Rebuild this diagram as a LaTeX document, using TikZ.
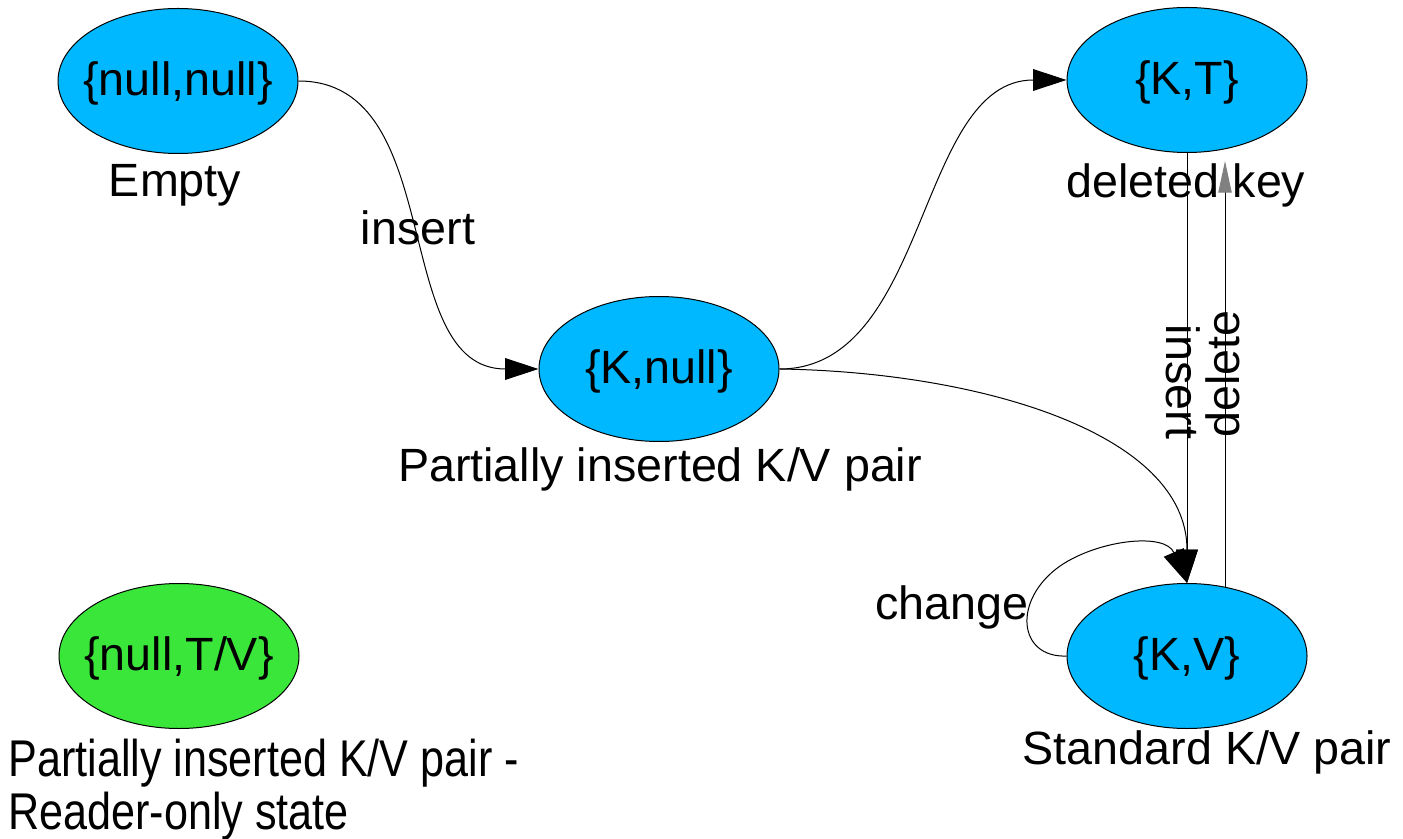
\documentclass[tikz,border=0pt]{standalone}
\usepackage{fontspec}
\usepackage{graphicx}
\setmainfont{Liberation Sans}
\usetikzlibrary{shapes.geometric,arrows.meta}
\definecolor{stblue}{RGB}{0,184,255}
\definecolor{stgreen}{RGB}{58,230,58}
\newcommand{\sttext}[1]{\raisebox{-0.32em}[0pt][0pt]{\makebox[0pt]{#1}}}
\begin{document}
\begin{tikzpicture}[x=0.6pt,y=-0.6pt,
  every node/.style={font=\fontsize{28}{27}\selectfont},
  state/.style={ellipse,draw=black,line width=0.6pt,fill=stblue,minimum width=144pt,minimum height=87pt,inner sep=0pt},
  lbl/.style={inner sep=0pt},
  conn/.style={draw=black,line width=0.6pt,-{Triangle[length=20pt,width=13pt]}},
  greyconn/.style={draw=black,line width=0.6pt,-{Triangle[length=19pt,width=8pt,color=gray]}}]
\useasboundingbox (0,0) rectangle (1403,839);
\node[state] (nn) at (178,81) {\sttext{\{null,null\}}};
\node[state] (kt) at (1187,80) {\sttext{\{K,T\}}};
\node[state] (kn) at (659,369) {\sttext{\{K,null\}}};
\node[state] (kv) at (1187,656) {\sttext{\{K,V\}}};
\node[state,fill=stgreen] (ntv) at (179,656) {\sttext{\{null,T/V\}}};

\node[lbl] (lempty) at (175,185) {Empty};
\node[lbl] (ldel) at (1186,185) {deleted key};
\node[lbl] (lpart) at (660,469) {Partially inserted K/V pair};
\node[lbl] (lstd) at (1207,752) {Standard K/V pair};
\node[lbl,anchor=base west,font=\fontsize{31}{31.5}\selectfont] (lreader) at (8,776)
  {\scalebox{0.835}[1]{\begin{tabular}[t]{@{}l@{}}Partially inserted K/V pair -\\Reader-only state\end{tabular}}};

\draw[conn] (nn.east) .. controls +(150,0) and +(-150,0) .. (kn.west);
\node[lbl] (lins1) at (418,228) {insert};
\draw[conn] (kn.east) .. controls +(150,0) and +(-150,0) .. (kt.west);
\draw[conn] (kn.east) .. controls +(200,3) and +(0,-150) .. (kv.north);
\draw[conn] (kt.south) -- (kv.north);
\draw[greyconn] ([xshift=22.8pt,yshift=-2.4pt]kv.north) -- ([xshift=22.8pt,yshift=-4.8pt]kt.south);
\draw[conn] (kv.west) .. controls (1018,658) and (1012,600) .. (1060,566) .. controls (1098,540) and (1165,532) .. (kv.north);
\node[lbl] (lchg) at (952,607) {change};
\node[lbl,rotate=-90] (lins2) at (1183,382) {insert};
\node[lbl,rotate=90] (ldelete) at (1223,374) {delete};
\end{tikzpicture}
\end{document}
